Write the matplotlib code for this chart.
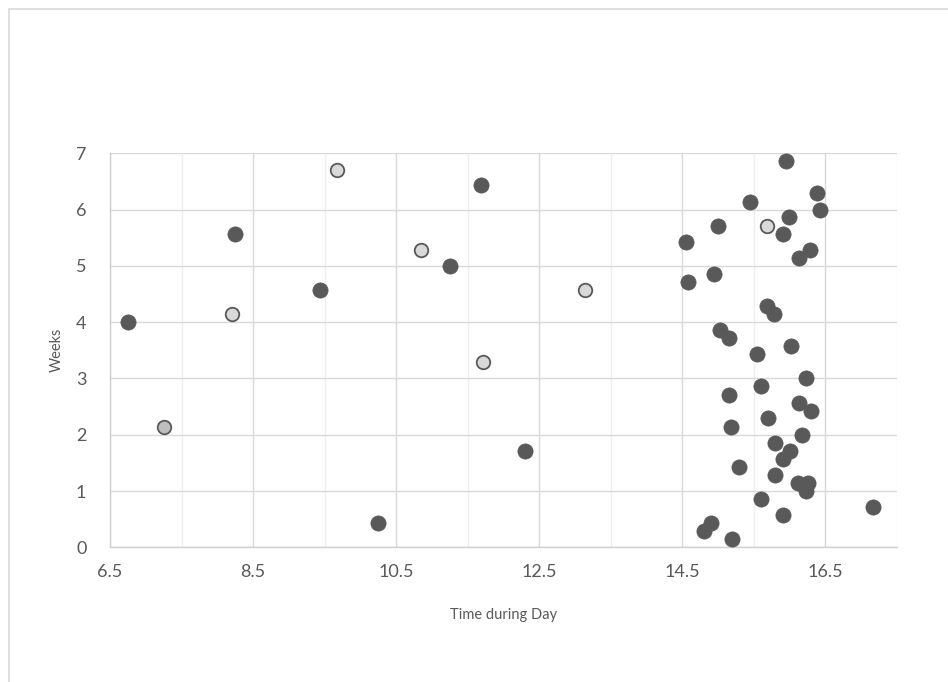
import matplotlib
matplotlib.use("Agg")
import matplotlib.pyplot as plt
import numpy as np
from matplotlib.patches import Rectangle

plt.rcParams['font.family'] = ['Lato', 'DejaVu Sans']

# Sessions: time of day (hours) vs. week of the course
dark_x = [6.75, 8.25, 9.44, 10.25, 11.69, 11.25, 12.30, 14.55, 14.58, 15.95,
          16.39, 16.43, 15.45, 16.00, 15.00, 15.91, 16.29, 16.14, 14.95, 15.69,
          15.79, 15.03, 15.16, 15.55, 16.02, 16.23, 15.60, 15.16, 16.14, 16.30,
          15.70, 15.19, 16.18, 15.80, 16.01, 15.91, 15.30, 15.80, 16.12, 16.26,
          16.23, 15.60, 17.17, 15.91, 14.90, 14.80, 15.20]
dark_y = [4.00, 5.57, 4.57, 0.43, 6.43, 5.00, 1.71, 5.43, 4.71, 6.86,
          6.29, 6.00, 6.14, 5.86, 5.71, 5.57, 5.29, 5.14, 4.86, 4.29,
          4.14, 3.86, 3.71, 3.43, 3.57, 3.00, 2.86, 2.71, 2.57, 2.43,
          2.29, 2.14, 2.00, 1.86, 1.71, 1.57, 1.43, 1.29, 1.14, 1.14,
          1.00, 0.86, 0.71, 0.57, 0.43, 0.29, 0.14]

light_x = [9.67, 8.21, 10.85, 11.71, 13.14, 15.68]
light_y = [6.71, 4.14, 5.29, 3.29, 4.57, 5.71]

mid_x = [7.25]
mid_y = [2.14]

x_ticks = [6.5, 8.5, 10.5, 12.5, 14.5, 16.5]
y_ticks = [0, 1, 2, 3, 4, 5, 6, 7]

W, H = 948, 682
fig = plt.figure(figsize=(W / 100, H / 100), dpi=100)
fig.patch.set_facecolor('white')

# chart frame
fig.patches.append(Rectangle((8.5 / W, -0.05), 1.1, 1 - 8.5 / H + 0.05,
                             transform=fig.transFigure, fill=False,
                             edgecolor='#d9d9d9', linewidth=1.2))

ax = fig.add_axes([110 / W, 1 - 547.3 / H, (896.7 - 110) / W, (547.3 - 153.3) / H])
ax.set_xlim(6.5, 17.5)
ax.set_ylim(0, 7)

ax.set_xticks(x_ticks)
ax.set_xticklabels([f"{v:.1f}" for v in x_ticks])
ax.set_xticks(np.arange(7.5, 17.6, 2.0), minor=True)
ax.set_yticks(y_ticks)
ax.set_yticklabels([str(v) for v in y_ticks])

ax.grid(which='major', axis='both', color='#d9d9d9', linewidth=1.0, zorder=0)
ax.grid(which='minor', axis='x', color='#efefef', linewidth=1.0, zorder=0)
ax.set_axisbelow(True)

for side in ['top', 'right']:
    ax.spines[side].set_visible(False)
ax.spines['left'].set_color('#d0d0d0')
ax.spines['bottom'].set_color('#d0d0d0')
ax.spines['left'].set_linewidth(1.0)
ax.spines['bottom'].set_linewidth(1.0)

ax.tick_params(which='both', length=0, colors='#595959', labelsize=13)
ax.tick_params(axis='y', pad=17)
ax.tick_params(axis='x', pad=12)

ax.scatter(dark_x, dark_y, s=120, color='#595959', edgecolors='#595959',
           linewidths=0.5, zorder=3)
ax.scatter(light_x, light_y, s=95, color='#d9d9d9', edgecolors='#595959',
           linewidths=1.3, zorder=3)
ax.scatter(mid_x, mid_y, s=95, color='#bfbfbf', edgecolors='#595959',
           linewidths=1.3, zorder=3)

ax.set_xlabel('Time during Day', fontsize=10.5, color='#595959', labelpad=20)
ax.set_ylabel('Weeks', fontsize=10.5, color='#595959', labelpad=9)

fig.savefig('out.png', dpi=100, facecolor='white')
